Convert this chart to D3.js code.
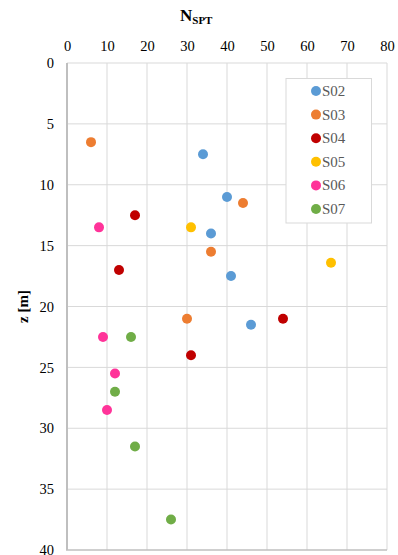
<!DOCTYPE html>
<html>
<head>
<meta charset="utf-8">
<script src="https://cdn.jsdelivr.net/npm/d3@7"></script>
<style>
  html, body { margin: 0; padding: 0; background: #fff; }
  svg { display: block; }
  text { font-family: "Liberation Serif", "Times New Roman", serif; }
</style>
</head>
<body>
<svg id="chart" width="398" height="555"></svg>
<script>
// SPT blow counts (N) against depth z [m] for each borehole
const boreholes = ["S02", "S03", "S04", "S05", "S06", "S07"];
const colors = ["#5b9bd5", "#ed7d31", "#c00000", "#ffc000", "#ff3399", "#70ad47"];

const s02 = [[34, 7.5], [40, 11], [36, 14], [41, 17.5], [46, 21.5]];
const s03 = [[6, 6.5], [44, 11.5], [36, 15.5], [30, 21]];
const s04 = [[17, 12.5], [13, 17], [54, 21], [31, 24]];
const s05 = [[31, 13.5], [66, 16.4]];
const s06 = [[8, 13.5], [9, 22.5], [12, 25.5], [10, 28.5]];
const s07 = [[16, 22.5], [12, 27], [17, 31.5], [26, 37.5]];
const seriesValues = [s02, s03, s04, s05, s06, s07];

const xTicks = [0, 10, 20, 30, 40, 50, 60, 70, 80];
const yTicks = [0, 5, 10, 15, 20, 25, 30, 35, 40];

const svg = d3.select("#chart");
const plotL = 67, plotR = 387, plotT = 63, plotB = 550;

const x = d3.scaleLinear().domain([0, 80]).range([plotL, plotR]);
const y = d3.scaleLinear().domain([0, 40]).range([plotT, plotB]);

// grid
const grid = svg.append("g");
grid.selectAll("line.v").data(xTicks.slice(1)).join("line")
  .attr("x1", d => x(d)).attr("x2", d => x(d))
  .attr("y1", plotT).attr("y2", plotB)
  .attr("stroke", "#d9d9d9").attr("stroke-width", 1);
grid.selectAll("line.h").data(yTicks.slice(0, -1)).join("line")
  .attr("x1", plotL).attr("x2", plotR)
  .attr("y1", d => y(d)).attr("y2", d => y(d))
  .attr("stroke", "#d9d9d9").attr("stroke-width", 1);

// axes (top x-axis, left y-axis) drawn with d3 axes, tick marks hidden
const xAxis = svg.append("g").attr("transform", `translate(0,${plotT})`)
  .call(d3.axisTop(x).tickValues(xTicks).tickSize(0).tickPadding(12));
xAxis.select(".domain").remove();
xAxis.selectAll("text").attr("font-size", 14.5).attr("fill", "#000")
  .style("font-family", "'Liberation Serif', serif");

const yAxis = svg.append("g").attr("transform", `translate(${plotL},0)`)
  .call(d3.axisLeft(y).tickValues(yTicks).tickSize(0).tickPadding(13));
yAxis.select(".domain").remove();
yAxis.selectAll("text").attr("font-size", 14.5).attr("fill", "#000")
  .style("font-family", "'Liberation Serif', serif");

// axis frame lines
svg.append("line").attr("x1", plotL).attr("x2", plotL).attr("y1", plotT).attr("y2", plotB)
  .attr("stroke", "#bfbfbf").attr("stroke-width", 2);
svg.append("line").attr("x1", plotL - 1).attr("x2", plotR).attr("y1", plotB).attr("y2", plotB)
  .attr("stroke", "#bfbfbf").attr("stroke-width", 1.5);

// points
boreholes.forEach((name, i) => {
  svg.append("g").selectAll("circle").data(seriesValues[i]).join("circle")
    .attr("cx", d => x(d[0])).attr("cy", d => y(d[1]))
    .attr("r", 5).attr("fill", colors[i]);
});

// axis titles
const title = svg.append("text").attr("x", 180).attr("y", 21)
  .attr("font-weight", "bold").attr("font-size", 17).attr("fill", "#000");
title.append("tspan").text("N");
title.append("tspan").attr("font-size", 11).attr("dy", 3).text("SPT");

svg.append("text")
  .attr("transform", `translate(28,${(plotT + plotB) / 2}) rotate(-90)`)
  .attr("text-anchor", "middle").attr("font-weight", "bold")
  .attr("font-size", 15).attr("fill", "#000").text("z [m]");

// legend
const lg = svg.append("g");
lg.append("rect").attr("x", 286).attr("y", 78.5).attr("width", 85.5).attr("height", 144.5)
  .attr("fill", "#fff").attr("stroke", "#d9d9d9").attr("stroke-width", 1);
boreholes.forEach((name, i) => {
  const cy = 91 + i * 23.6;
  lg.append("circle").attr("cx", 316).attr("cy", cy).attr("r", 5).attr("fill", colors[i]);
  lg.append("text").attr("x", 322).attr("y", cy + 5).attr("font-size", 15)
    .attr("fill", "#595959").text(name);
});
</script>
</body>
</html>
